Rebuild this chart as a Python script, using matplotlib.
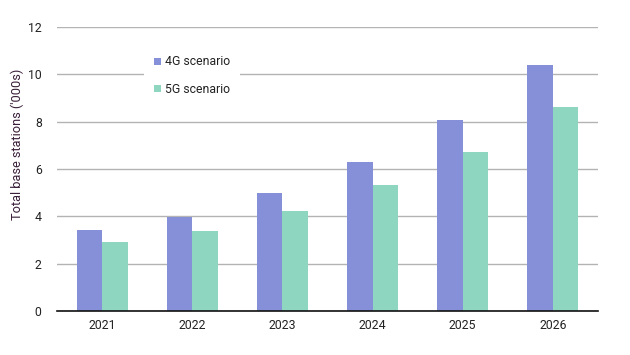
import matplotlib
matplotlib.use("Agg")
import matplotlib.pyplot as plt
import numpy as np

plt.rcParams['font.family'] = ['Roboto', 'DejaVu Sans']

years = ["2021", "2022", "2023", "2024", "2025", "2026"]
series_4g = [3.42, 3.98, 4.99, 6.30, 8.07, 10.39]
series_5g = [2.92, 3.38, 4.22, 5.32, 6.72, 8.62]
labels = ["4G scenario", "5G scenario"]
colors = ["#8590D9", "#8ED6C0"]

fig = plt.figure(figsize=(6.3, 3.55), dpi=100)
ax = fig.add_axes([0.0905, 0.124, 0.8585, 0.8])

x = np.arange(len(years))
w = 0.283
ax.bar(x - w/2, series_4g, width=w, color=colors[0], label=labels[0], zorder=3)
ax.bar(x + w/2, series_5g, width=w, color=colors[1], label=labels[1], zorder=3)

ax.set_xlim(-0.5, len(years) - 0.5)
ax.set_ylim(0, 12)
ax.set_yticks(range(0, 13, 2))
ax.set_xticks(x)
ax.set_xticklabels(years)
ax.yaxis.grid(True, color="#b3b3b3", linewidth=1, zorder=0)
ax.set_axisbelow(True)
for s in ["left", "right", "top"]:
    ax.spines[s].set_visible(False)
ax.spines["bottom"].set_color("#111111")
ax.spines["bottom"].set_linewidth(1.2)
ax.spines["bottom"].set_zorder(4)
ax.tick_params(axis="both", length=0, labelsize=8.8, colors="#222222")
ax.tick_params(axis="x", pad=6)
ax.tick_params(axis="y", pad=11)
ax.set_ylabel("Total base stations ('000s)", fontsize=9.2, color="#3a1f3a")
ax.yaxis.set_label_coords(-0.061, 0.588)

leg = ax.legend(loc="upper left", bbox_to_anchor=(144/630, 1 - 45/355),
                bbox_transform=fig.transFigure, frameon=True, fancybox=False,
                edgecolor="none", facecolor="white", framealpha=1,
                fontsize=8.8, handlelength=0.5, handleheight=0.5,
                handletextpad=0.35, labelspacing=1.2, borderpad=0.85,
                borderaxespad=0)
leg.set_zorder(5)
for t in leg.get_texts():
    t.set_color("#222222")

fig.savefig("out.png", dpi=100)
